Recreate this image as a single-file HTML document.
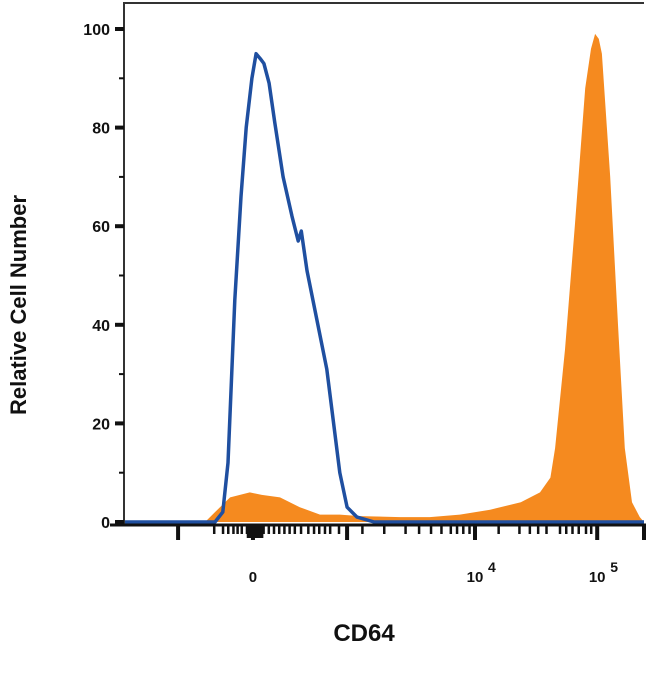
<!DOCTYPE html>
<html><head><meta charset="utf-8"><style>
body{margin:0;background:#fff;width:650px;height:692px;overflow:hidden}
text{font-family:"Liberation Sans",sans-serif;font-weight:bold;fill:#111}
</style></head><body>
<svg id="chart" width="650" height="692" viewBox="0 0 650 692" xmlns="http://www.w3.org/2000/svg"></svg>
<script>
// channel positions (0..1000 arbitrary display scale) and relative cell numbers
const blueX=[0,175,190,200,213,225,235,246,254,262,269,279,290,306,323,335,341,352,371,390,402,415,429,448,481,1000];
const blueY=[0,0,2,12,45,66,80,90,95,94,93,89,81,70,62,57,59,51,41,31,21,10,3,1,0,0];
const orangeX=[0,156,175,204,242,265,300,338,377,415,454,531,588,646,704,763,800,820,829,848,867,887,898,906,913,919,935,950,963,977,992,1000];
const orangeY=[0,0,2,5,6,5.5,5,3,1.5,1.5,1.2,1,1,1.5,2.5,4,6,9,15,35,60,88,96,99,98,95,70,40,15,4,1,0];
const yTicks=[0,20,40,60,80,100];
const xLabels=[{c:248,t:"0"},{c:675,t:"10",s:"4"},{c:910,t:"10",s:"5"}];
const majorTickCh=[104,248,429,675,910,1000];
const minorTickCh=[173,190,200,210,218,226,236,260,268,278,288,298,308,318,328,340,354,365,375,386,396,413,458,500,541,567,590,610,628,640,652,664,720,760,780,796,812,838,850,862,874,888,898];

const svg=document.getElementById('chart');
const NS='http://www.w3.org/2000/svg';
const X0=124,X1=644,Y0=522,Y100=29;
const sx=c=>X0+c/1000*(X1-X0);
const sy=v=>Y0-v/100*(Y0-Y100);
function mk(tag,attrs){const e=document.createElementNS(NS,tag);for(const k in attrs)e.setAttribute(k,attrs[k]);svg.appendChild(e);return e;}

let d='M'+sx(orangeX[0])+','+sy(0);
orangeX.forEach((c,i)=>{d+=' L'+sx(c).toFixed(1)+','+sy(orangeY[i]).toFixed(1);});
d+=' L'+sx(1000)+','+sy(0)+' Z';
const of=mk('path',{d:d,fill:'#f58a1f'});



let b='';
blueX.forEach((c,i)=>{b+=(i?' L':'M')+sx(c).toFixed(1)+','+sy(blueY[i]).toFixed(1);});
const bl=mk('path',{d:b,fill:'none',stroke:'#1f4fa0','stroke-width':3.5,'stroke-linejoin':'round'});



const fr=mk('path',{d:`M${X0},525 L${X0},3 L${X1},3`,fill:'none',stroke:'#333','stroke-width':2});


const xa=mk('line',{x1:110,y1:525,x2:646,y2:525,stroke:'#111','stroke-width':3});



yTicks.forEach(v=>{
  const t=mk('line',{x1:X0-9,x2:X0,y1:sy(v),y2:sy(v),stroke:'#111','stroke-width':4});
  
  
  const l=mk('text',{x:X0-14,y:sy(v)+6,'text-anchor':'end','font-size':16});
  l.textContent=v;
  
  
  if(v<100){const m=mk('line',{x1:X0-5,x2:X0,y1:sy(v+10),y2:sy(v+10),stroke:'#111','stroke-width':2});
  
  }
});

majorTickCh.forEach(c=>{const t=mk('rect',{x:sx(c)-2,y:526,width:4,height:14,fill:'#111'});

});
minorTickCh.forEach(c=>{const t=mk('rect',{x:sx(c)-1,y:526,width:2.5,height:8,fill:'#111'});

});
const blk=mk('rect',{x:sx(236),y:526,width:sx(268)-sx(236),height:12,fill:'#111'});



xLabels.forEach(o=>{
  const l=mk('text',{x:sx(o.c),y:582,'text-anchor':'middle','font-size':15});
  l.textContent=o.t;
  
  
  if(o.s){const s=mk('text',{x:sx(o.c)+13,y:572,'font-size':14});s.textContent=o.s;
  
  }
});

const xt=mk('text',{x:364,y:641,'text-anchor':'middle','font-size':24});
xt.textContent='CD64';


const yt=mk('text',{x:0,y:0,'text-anchor':'middle','font-size':22,transform:'translate(26,305) rotate(-90)'});
yt.textContent='Relative Cell Number';


</script>
</body></html>
